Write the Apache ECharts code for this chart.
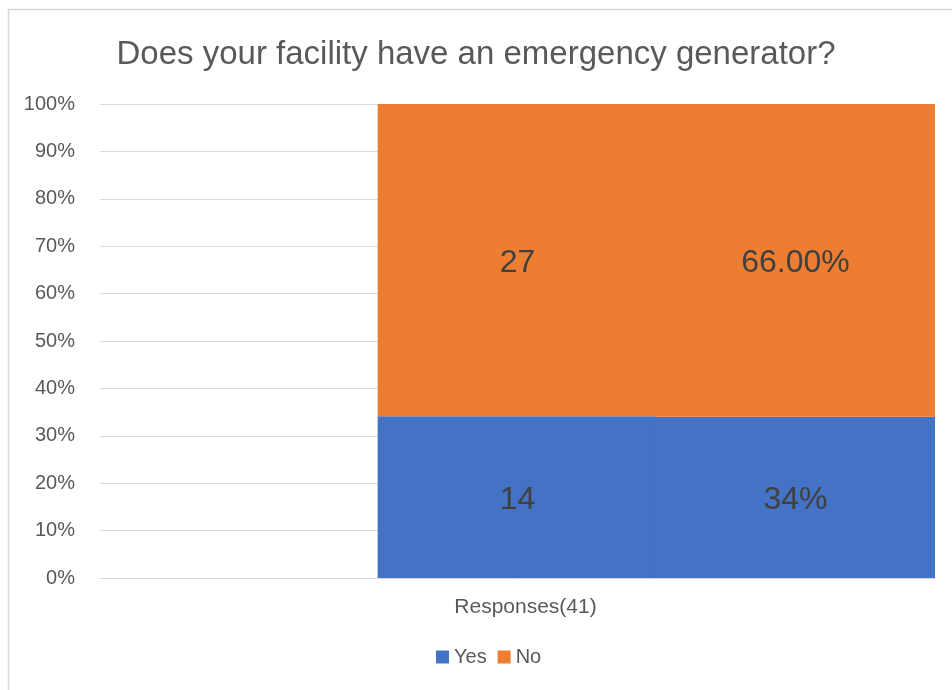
<!DOCTYPE html>
<html>
<head>
<meta charset="utf-8">
<script src="https://cdn.jsdelivr.net/npm/echarts@6/dist/echarts.min.js"></script>
<style>
  html, body { margin: 0; padding: 0; background: #ffffff; }
  #chart { width: 952px; height: 690px; }
</style>
</head>
<body>
<div id="chart"></div>
<script>
// Survey: does the facility have an emergency generator?
// Three slots on the category axis: an empty one, the response counts, and the percentages.
const categories = ['', 'Responses(41)', ''];
const yesValues = [null, 14, 34];
const noValues = [null, 27, 66];
const yesLabels = ['', '14', '34%'];
const noLabels = ['', '27', '66.00%'];
const yTicks = [0, 10, 20, 30, 40, 50, 60, 70, 80, 90, 100];

// 100% stacking: each column is shown as a share of its own total
function shares(values, other) {
  return values.map((v, i) => {
    if (v == null) return null;
    return v / (v + other[i]) * 100;
  });
}
const yesShare = shares(yesValues, noValues);
const noShare = shares(noValues, yesValues);

const FONT = '"Liberation Sans", Arial, sans-serif';
const chart = echarts.init(document.getElementById('chart'), null, { renderer: 'canvas' });

function labelFor(list) {
  return {
    show: true,
    position: 'inside',
    fontFamily: FONT,
    fontSize: 32,
    color: '#404040',
    offset: [0, 3],
    formatter: p => list[p.dataIndex]
  };
}

chart.setOption({
  animation: false,
  backgroundColor: '#ffffff',
  graphic: [{
    type: 'rect',
    shape: { x: 8.5, y: 9.5, width: 1000, height: 1000 },
    style: { fill: 'none', stroke: '#d9d9d9', lineWidth: 1.5 },
    silent: true
  }],
  title: {
    text: 'Does your facility have an emergency generator?',
    left: 'center',
    top: 33,
    textStyle: { fontFamily: FONT, fontSize: 33, fontWeight: 'normal', color: '#595959' }
  },
  legend: {
    data: ['Yes', 'No'],
    left: 436,
    top: 647,
    padding: 0,
    icon: 'rect',
    itemWidth: 13,
    itemHeight: 13,
    itemGap: 11,
    textStyle: { fontFamily: FONT, fontSize: 20, color: '#595959' }
  },
  grid: { left: 100, right: 17, top: 104, bottom: 112, containLabel: false },
  xAxis: {
    type: 'category',
    data: categories,
    axisLine: { show: true, lineStyle: { color: '#d9d9d9', width: 1 } },
    axisTick: { show: false },
    axisLabel: {
      fontFamily: FONT, fontSize: 21, color: '#595959', margin: 19,
      padding: [0, 0, 0, 16]
    }
  },
  yAxis: {
    type: 'value',
    min: 0,
    max: 100,
    interval: 10,
    axisLine: { show: false },
    axisTick: { show: false },
    splitLine: { lineStyle: { color: '#d9d9d9', width: 1 } },
    axisLabel: {
      fontFamily: FONT, fontSize: 20, color: '#595959', margin: 25,
      formatter: v => yTicks.includes(v) ? v + '%' : ''
    }
  },
  series: [
    {
      name: 'Yes',
      type: 'bar',
      stack: 'total',
      data: yesShare,
      barWidth: '100.5%',
      barGap: '0%',
      itemStyle: { color: '#4472C4' },
      label: labelFor(yesLabels)
    },
    {
      name: 'No',
      type: 'bar',
      stack: 'total',
      data: noShare,
      barWidth: '100.5%',
      barGap: '0%',
      itemStyle: { color: '#ED7D31' },
      label: labelFor(noLabels)
    }
  ]
});
</script>
</body>
</html>
